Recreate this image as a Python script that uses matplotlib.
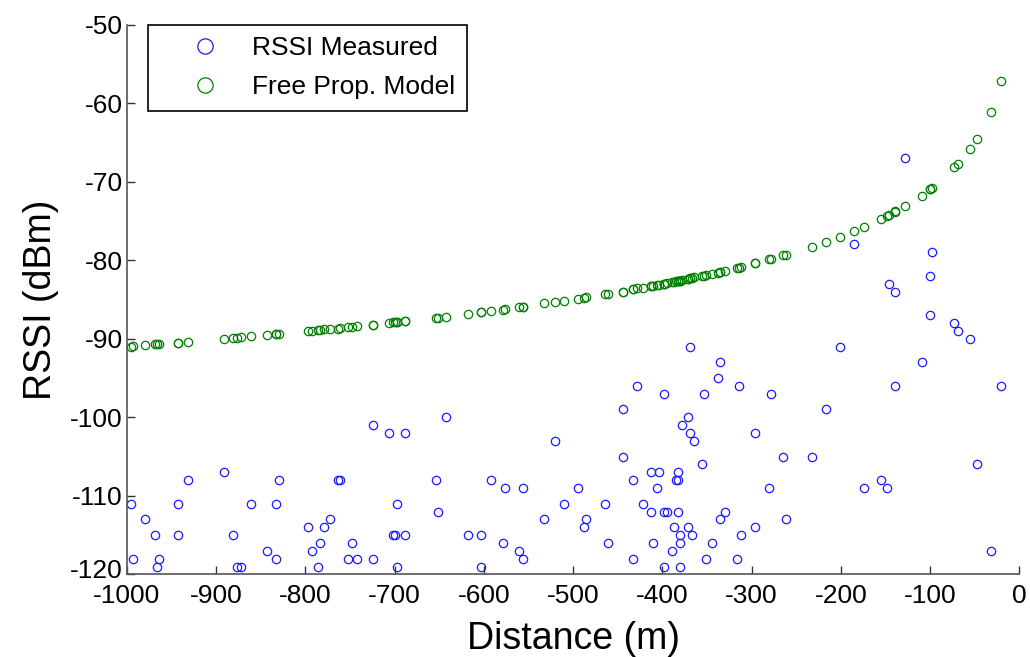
import matplotlib
matplotlib.use("Agg")
import matplotlib.pyplot as plt
from matplotlib.lines import Line2D
import matplotlib.transforms as mtransforms

plt.rcParams['font.family'] = ['Liberation Sans', 'DejaVu Sans']
plt.rcParams['axes.unicode_minus'] = False

# Distance (m) of each measurement
distance = [
    -995.5, -979.5, -968.3, -943.2, -943.2, -932.1, -993.6, -963.8, -966.4, -891.1,
    -881.7, -876.9, -872.4, -861.2, -833.5, -829.5, -842.9, -833.5, -797.7, -792.9,
    -785.9, -783.6, -779.1, -772.4, -763.0, -761.2, -751.8, -742.5, -747.3, -724.6,
    -724.6, -706.4, -688.0, -701.9, -699.7, -688.0, -697.4, -697.4, -642.6, -654.1,
    -651.9, -617.5, -603.7, -603.7, -592.5, -576.5, -555.9, -578.8, -560.8, -555.9,
    -519.8, -533.2, -510.5, -494.4, -485.4, -487.6, -464.6, -460.4, -444.4, -444.4,
    -432.8, -432.8, -428.3, -421.3, -412.3, -410.1, -412.3, -403.3, -398.5, -405.6,
    -398.5, -394.7, -382.9, -382.9, -385.1, -382.9, -387.3, -380.6, -380.6, -389.1,
    -398.5, -380.6, -371.7, -366.7, -369.0, -371.7, -377.9, -369.0, -364.5, -355.5,
    -335.0, -337.3, -314.6, -353.3, -278.0, -216.7, -296.2, -264.5, -232.4, -280.2,
    -330.2, -335.0, -262.0, -296.2, -312.3, -344.0, -350.7, -316.8, -200.7, -184.7,
    -128.0, -98.1, -100.3, -145.9, -138.8, -100.3, -72.8, -68.3, -54.9, -109.5,
    -139.2, -20.5, -47.9, -154.8, -173.5, -148.1, -32.0,
]

# Measured RSSI (dBm)
rssi_measured = [
    -111, -113, -115, -111, -115, -108, -118, -118, -119, -107,
    -115, -119, -119, -111, -111, -108, -117, -118, -114, -117,
    -119, -116, -114, -113, -108, -108, -118, -118, -116, -101,
    -118, -102, -102, -115, -115, -115, -111, -119, -100, -108,
    -112, -115, -115, -119, -108, -109, -109, -116, -117, -118,
    -103, -113, -111, -109, -113, -114, -111, -116, -99, -105,
    -108, -118, -96, -111, -112, -116, -107, -107, -97, -109,
    -112, -112, -112, -107, -108, -108, -114, -115, -116, -117,
    -119, -119, -114, -115, -91, -100, -101, -102, -103, -106,
    -93, -95, -96, -97, -97, -99, -102, -105, -105, -109,
    -112, -113, -113, -114, -115, -116, -118, -118, -91, -78,
    -67, -79, -82, -83, -84, -87, -88, -89, -90, -93,
    -96, -96, -106, -108, -109, -109, -117,
]

# Free propagation model RSSI (dBm) at the same distances
rssi_model = [
    -91.0, -90.8, -90.7, -90.5, -90.5, -90.4, -90.9, -90.7, -90.7, -90.0,
    -89.9, -89.9, -89.8, -89.7, -89.4, -89.4, -89.5, -89.4, -89.0, -89.0,
    -88.9, -88.9, -88.8, -88.8, -88.7, -88.6, -88.5, -88.4, -88.5, -88.2,
    -88.2, -88.0, -87.8, -87.9, -87.9, -87.8, -87.9, -87.9, -87.2, -87.3,
    -87.3, -86.8, -86.6, -86.6, -86.5, -86.2, -85.9, -86.3, -86.0, -85.9,
    -85.3, -85.5, -85.2, -84.9, -84.7, -84.8, -84.3, -84.3, -84.0, -84.0,
    -83.7, -83.7, -83.6, -83.5, -83.3, -83.3, -83.3, -83.1, -83.0, -83.2,
    -83.0, -82.9, -82.7, -82.7, -82.7, -82.7, -82.8, -82.6, -82.6, -82.8,
    -83.0, -82.6, -82.4, -82.3, -82.3, -82.4, -82.5, -82.3, -82.2, -82.0,
    -81.5, -81.6, -81.0, -82.0, -79.9, -77.7, -80.4, -79.4, -78.3, -79.9,
    -81.4, -81.5, -79.4, -80.4, -80.9, -81.7, -81.9, -81.0, -77.1, -76.3,
    -73.1, -70.8, -71.0, -74.3, -73.8, -71.0, -68.2, -67.7, -65.8, -71.8,
    -73.9, -57.2, -64.6, -74.8, -75.8, -74.4, -61.1,
]

x_ticks = list(range(-1000, 1, 100))
y_ticks = list(range(-120, -49, 10))

fig = plt.figure(figsize=(10.30, 6.57), dpi=100)
ax = fig.add_axes([0.1233, 0.1256, 0.8663, 0.8371])

ax.plot(distance, rssi_measured, linestyle='none', marker='o', markersize=6,
        markerfacecolor='none', markeredgecolor='#1a1aff', markeredgewidth=0.9)
ax.plot(distance, rssi_model, linestyle='none', marker='o', markersize=6,
        markerfacecolor='none', markeredgecolor='#008000', markeredgewidth=0.9)

ax.set_xlim(-1000, 0)
ax.set_ylim(-120, -50)
ax.set_xticks(x_ticks)
ax.set_yticks(y_ticks)
ax.tick_params(direction='in', length=6, width=1, labelsize=19, color='#333333',
               top=False, right=False)
ax.tick_params(axis='x', pad=7)
ax.tick_params(axis='y', pad=3)
for s in ['top', 'right']:
    ax.spines[s].set_visible(False)
for s in ['left', 'bottom']:
    ax.spines[s].set_color('#555555')
    ax.spines[s].set_linewidth(1.2)

# nudge the lowest y tick label up slightly, as in the reference
ylabels = ax.get_yticklabels()
ylabels[0].set_transform(ylabels[0].get_transform() +
                         mtransforms.ScaledTranslation(0, 6 / 100, fig.dpi_scale_trans))

ax.set_xlabel('Distance (m)', fontsize=27, labelpad=9)
ax.set_ylabel('RSSI (dBm)', fontsize=27, labelpad=8)

handles = [
    Line2D([], [], linestyle='none', marker='o', markersize=11,
           markerfacecolor='none', markeredgecolor='#1a1aff', markeredgewidth=0.9),
    Line2D([], [], linestyle='none', marker='o', markersize=11,
           markerfacecolor='none', markeredgecolor='#008000', markeredgewidth=0.9),
]
leg = ax.legend(handles, ['RSSI Measured', 'Free Prop. Model'], loc='upper left',
                bbox_to_anchor=(0.0235, 1.0), borderaxespad=0, fontsize=19,
                fancybox=False, edgecolor='black', framealpha=1,
                handlelength=3.4, handletextpad=0.1, borderpad=0.45,
                labelspacing=0.55)
leg.get_frame().set_linewidth(1.2)

fig.savefig('out.png', dpi=100)
